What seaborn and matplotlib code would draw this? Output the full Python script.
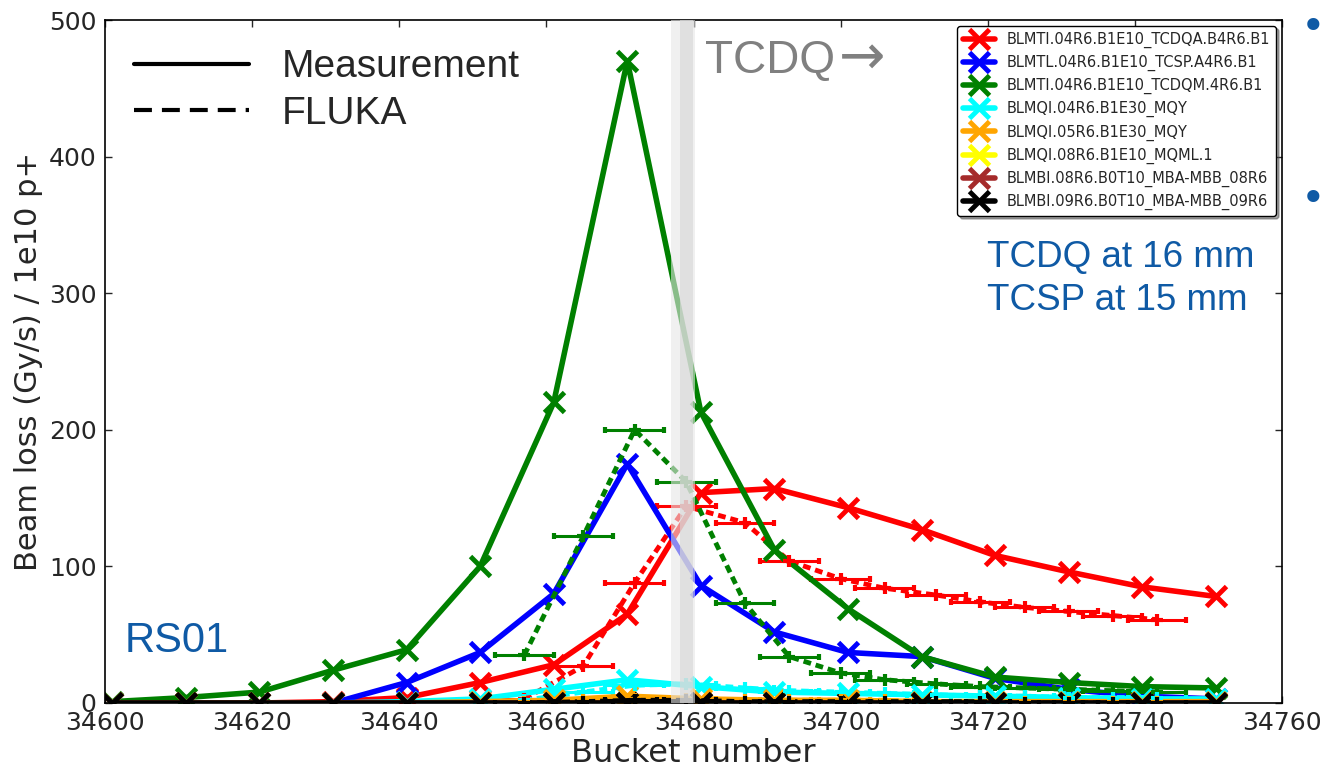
import pandas as pd
import seaborn as sns
import matplotlib.pyplot as plt
from matplotlib.lines import Line2D

# channel names and colours (legend order)
channels = [
    "BLMTI.04R6.B1E10_TCDQA.B4R6.B1",
    "BLMTL.04R6.B1E10_TCSP.A4R6.B1",
    "BLMTI.04R6.B1E10_TCDQM.4R6.B1",
    "BLMQI.04R6.B1E30_MQY",
    "BLMQI.05R6.B1E30_MQY",
    "BLMQI.08R6.B1E10_MQML.1",
    "BLMBI.08R6.B0T10_MBA-MBB_08R6",
    "BLMBI.09R6.B0T10_MBA-MBB_09R6",
]
colors = ["red", "blue", "green", "cyan", "orange", "yellow", "brown", "black"]

# measurement
buckets = [34601, 34611, 34621, 34631, 34641, 34651, 34661, 34671,
           34681, 34691, 34701, 34711, 34721, 34731, 34741, 34751]
meas_red = [0, 0, 0, 1, 4, 15, 28, 65, 154, 157, 143, 127, 108, 96, 85, 78]
meas_blue = [0, 0, 0, 0, 15, 37, 80, 175, 86, 52, 37, 34, 18, 10, 5, 3]
meas_green = [1, 4, 8, 24, 39, 100, 220, 470, 213, 112, 69, 34, 19, 15, 12, 11]
meas_cyan = [0, 0, 0, 0, 1, 3, 10, 17, 12, 8, 7, 6, 5, 4, 3, 3]
meas_orange = [0, 0, 0, 0, 0, 1, 2, 5, 3, 2, 2, 1, 1, 1, 1, 1]
meas_yellow = [0, 0, 0, 0, 0, 0, 0, 0, 0, 0, 0, 0, 0, 0, 0, 0]
meas_brown = [0, 0, 0, 0, 0, 0, 0, 0, 0, 0, 0, 0, 0, 0, 0, 0]
meas_black = [0, 0, 0, 0, 0, 0, 0, 0, 0, 0, 0, 0, 0, 0, 0, 0]

# FLUKA simulation
fluka_buckets = [34657, 34665, 34672, 34679, 34687, 34693, 34700,
                 34706, 34713, 34719, 34725, 34731, 34737, 34743]
fluka_halfwidth = [4, 4, 4, 4, 4, 4, 4, 4, 4, 4, 4, 4, 4, 4]
fluka_red = [3, 27, 88, 144, 132, 104, 91, 84, 79, 74, 70, 67, 64, 61]
fluka_green = [35, 122, 200, 162, 73, 34, 22, 17, 14, 12, 11, 10, 9, 8]
fluka_cyan = [2, 8, 13, 14, 11, 9, 8, 7, 6, 5, 5, 4, 4, 4]
fluka_orange = [1, 2, 3, 3, 2, 2, 2, 2, 1, 1, 1, 1, 1, 1]
fluka_black = [0, 1, 2, 2, 1, 1, 1, 1, 1, 1, 0, 0, 0, 0]

meas = dict(zip(channels, [meas_red, meas_blue, meas_green, meas_cyan,
                           meas_orange, meas_yellow, meas_brown, meas_black]))
fluka = {channels[0]: fluka_red, channels[2]: fluka_green,
         channels[3]: fluka_cyan, channels[4]: fluka_orange,
         channels[7]: fluka_black}

sns.set_style("ticks")
plt.rcParams["font.family"] = ["DejaVu Sans"]
plt.rcParams["lines.scale_dashes"] = True

fig = plt.figure(figsize=(13.24, 7.71), dpi=100)
ax = fig.add_axes([105 / 1324, 68 / 771, 1177 / 1324, 683 / 771])

slide_font = ["Liberation Sans", "DejaVu Sans"]
blue_txt = "#0f5aa5"

for name, col in zip(channels, colors):
    df = pd.DataFrame({"bucket": buckets, "loss": meas[name]})
    sns.lineplot(data=df, x="bucket", y="loss", color=col, lw=4,
                 marker="x", markersize=15, mew=3.5, mec=col,
                 ax=ax, legend=False, errorbar=None)
    if name in fluka:
        fdf = pd.DataFrame({"bucket": fluka_buckets, "loss": fluka[name]})
        sns.lineplot(data=fdf, x="bucket", y="loss", color=col, lw=3.5,
                     linestyle=(0, (1.6, 1.0)), ax=ax, legend=False,
                     errorbar=None)
        ax.errorbar(fdf["bucket"], fdf["loss"], xerr=fluka_halfwidth,
                    fmt="+", color=col, ms=9, mew=3, elinewidth=2.2,
                    capsize=2.5, capthick=5)

# TCDQ position band
ax.axvspan(34677.0, 34680.2, color="#e6e6e6", alpha=0.6, lw=0, zorder=10)
ax.axvspan(34678.2, 34679.9, color="#d8d8d8", alpha=0.65, lw=0, zorder=10)

ax.set_xlim(34600, 34760)
ax.set_ylim(0, 500)
ax.set_xticks(range(34600, 34761, 20))
ax.set_yticks(range(0, 501, 100))
ax.set_xlabel("Bucket number", fontsize=23, labelpad=2)
ax.set_ylabel("Beam loss (Gy/s) / 1e10 p+", fontsize=22, labelpad=4)
ax.tick_params(axis="both", which="major", direction="in", length=5,
               width=1, labelsize=18, top=True, right=True, pad=6)
for sp in ax.spines.values():
    sp.set_linewidth(1.2)
    sp.set_color("black")

# channel legend
handles = [Line2D([], [], color=c, lw=4, marker="x", ms=15, mew=3.5, mec=c)
           for c in colors]
leg1 = ax.legend(handles, channels, loc="upper right", fontsize=10.5,
                 handlelength=2.2, labelspacing=0.48, borderaxespad=0.4,
                 fancybox=True, shadow=True, framealpha=1, edgecolor="black")
leg1.set_zorder(20)
ax.add_artist(leg1)

# measurement / FLUKA key
key = [Line2D([], [], color="black", lw=3),
       Line2D([], [], color="black", lw=3, dashes=(4.3, 2.4))]
leg2 = ax.legend(key, ["Measurement", "FLUKA"], loc="upper left",
                 frameon=False, prop={"family": slide_font, "size": 28},
                 handlelength=2.95, handletextpad=0.85, labelspacing=0.28,
                 borderaxespad=0.35, borderpad=0.4)

ax.text(34681.6, 461, "TCDQ", color="#808080", fontsize=33,
        family=slide_font, va="baseline", zorder=15)
ax.text(34699.8, 461, "\u2192", color="#808080", fontsize=40,
        family=["DejaVu Sans"], va="baseline", zorder=15)
ax.text(34719.9, 319, "TCDQ at 16 mm", color=blue_txt, fontsize=26.5,
        family=slide_font, va="baseline")
ax.text(34719.9, 287.7, "TCSP at 15 mm", color=blue_txt, fontsize=26.5,
        family=slide_font, va="baseline")
ax.text(34602.7, 37.3, "RS01", color=blue_txt, fontsize=30,
        family=slide_font, va="baseline")

# slide bullets
for yb in (1 - 28 / 771, 1 - 200 / 771):
    fig.text(1313 / 1324, yb, "\u2022", color=blue_txt, fontsize=30,
             ha="center", va="center")

fig.savefig("out.png", dpi=100)
